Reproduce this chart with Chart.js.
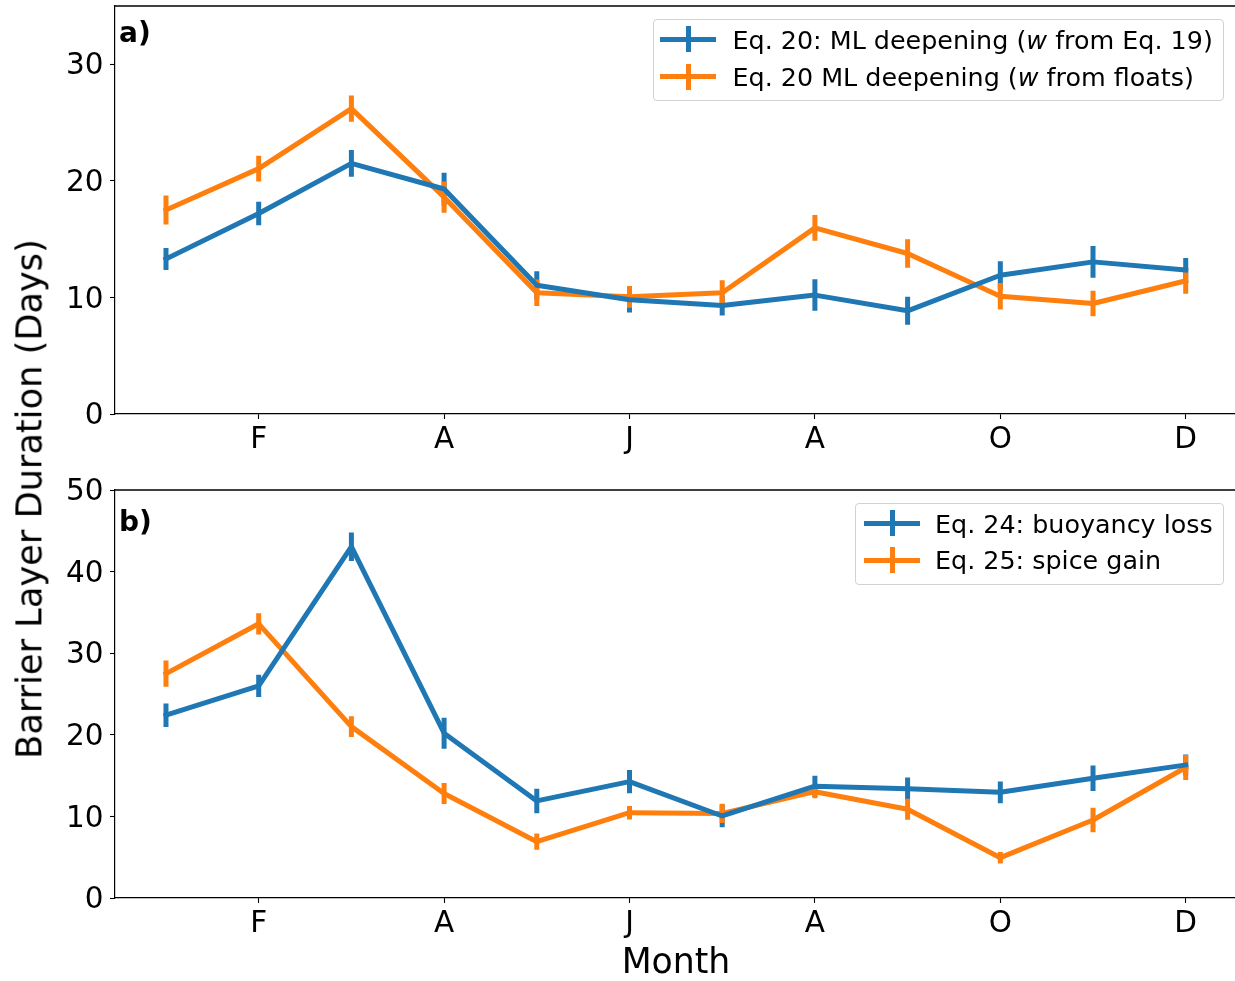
<!DOCTYPE html>
<html><head><meta charset="utf-8">
<script src="https://cdn.jsdelivr.net/npm/chart.js@4.4.1/dist/chart.umd.min.js"></script>
<style>
html,body{margin:0;padding:0;background:#fff;overflow:hidden;width:1235px;height:981px;}
#wrap{position:relative;width:1235px;height:981px;overflow:hidden;font-family:"DejaVu Sans",sans-serif;color:#000;background:#fff;}
canvas{position:absolute;left:0;}
.t{position:absolute;white-space:nowrap;}
.frame{position:absolute;box-sizing:border-box;border:1px solid #d2d2d2;border-radius:4px;background:rgba(255,255,255,0.8);}
.bar{position:absolute;}
</style></head>
<body><div id="wrap">
<canvas id="c1" width="1240" height="470" style="top:0px;width:1240px;height:470px"></canvas>
<canvas id="c2" width="1240" height="511" style="top:470px;width:1240px;height:511px"></canvas>
</div>
<script>
// ---- data ----
const months = [1,2,3,4,5,6,7,8,9,10,11,12];
const monthTickValues = [2,4,6,8,10,12];
const monthTickLabels = ['F','A','J','A','O','D'];
const yTicksA = [0,10,20,30];
const yTicksB = [0,10,20,30,40,50];

// panel a
const aEq19 = [13.3,17.2,21.5,19.3,11.05,9.8,9.3,10.2,8.85,11.9,13.05,12.35];
const aEq19Err = [0.95,1.0,1.15,1.4,1.2,1.1,0.85,1.35,1.2,1.2,1.37,1.03];
const aFloats = [17.5,21.05,26.2,18.6,10.4,10.05,10.4,15.97,13.77,10.1,9.48,11.42];
const aFloatsErr = [1.24,1.1,1.13,1.34,1.14,0.93,1.07,1.1,1.23,1.14,1.1,1.1];
// panel b
const bBuoy = [22.4,26.0,43.05,20.2,11.9,14.26,10.05,13.7,13.4,12.95,14.67,16.3];
const bBuoyErr = [1.43,1.37,1.75,1.9,1.5,1.43,1.37,1.29,1.37,1.33,1.57,1.3];
const bSpice = [27.5,33.6,21.0,12.8,6.9,10.45,10.37,13.03,10.87,4.94,9.56,16.0];
const bSpiceErr = [1.6,1.3,1.27,1.29,1.0,0.82,1.18,0.82,1.29,0.71,1.5,1.53];

const legendA = [['Eq. 20: ML deepening (', 'w', ' from Eq. 19)'], ['Eq. 20 ML deepening (', 'w', ' from floats)']];
const legendB = [['Eq. 24: buoyancy loss'], ['Eq. 25: spice gain']];
const yTitle = 'Barrier Layer Duration (Days)';
const xTitle = 'Month';

const BLUE = '#1f77b4', ORANGE = '#ff7f0e';
const FAMILY = 'DejaVu Sans';
const TICK_SIZE = 29.5;

const errorBarPlugin = {
  id: 'errbars',
  beforeDatasetsDraw(chart) {
    const ctx = chart.ctx, xs = chart.scales.x, ys = chart.scales.y;
    chart.data.datasets.forEach(ds => {
      if (!ds.errors) return;
      ctx.save();
      ctx.strokeStyle = ds.borderColor;
      ctx.lineWidth = ds.borderWidth;
      ctx.lineCap = 'butt';
      ctx.beginPath();
      ds.data.forEach((p, i) => {
        const x = xs.getPixelForValue(p.x);
        ctx.moveTo(x, ys.getPixelForValue(p.y - ds.errors[i]));
        ctx.lineTo(x, ys.getPixelForValue(p.y + ds.errors[i]));
      });
      ctx.stroke();
      ctx.restore();
    });
  }
};
const framePlugin = {
  id: 'frame',
  afterDraw(chart) {
    const a = chart.chartArea, ctx = chart.ctx;
    ctx.save();
    ctx.strokeStyle = '#000'; ctx.lineWidth = 1.3;
    ctx.beginPath();
    ctx.moveTo(a.left, a.top); ctx.lineTo(a.right, a.top); ctx.lineTo(a.right, a.bottom);
    ctx.stroke();
    ctx.restore();
  }
};

function ds(vals, errs, color) {
  return {
    data: months.map((m, i) => ({x: m, y: vals[i]})),
    errors: errs,
    borderColor: color, backgroundColor: color,
    borderWidth: 5, pointRadius: 0, pointHoverRadius: 0,
    tension: 0, fill: false, borderJoinStyle: 'round', borderCapStyle: 'square'
  };
}

function makeChart(id, sets, yTicks, yMax, padTop, xAxisHeight) {
  return new Chart(document.getElementById(id), {
    type: 'line',
    data: {datasets: sets},
    options: {
      responsive: false, animation: false, devicePixelRatio: 1, events: [],
      layout: {padding: {left: 0, top: padTop, right: 3.3, bottom: 0}},
      plugins: {legend: {display: false}, tooltip: {enabled: false}},
      scales: {
        x: {
          type: 'linear', min: 0.45, max: 12.55,
          afterBuildTicks: s => { s.ticks = monthTickValues.map(v => ({value: v})); },
          ticks: {callback: (v, i) => monthTickLabels[i], font: {family: FAMILY, size: TICK_SIZE}, color: '#000', padding: 3.5, maxRotation: 0, autoSkip: false},
          grid: {drawOnChartArea: false, drawTicks: true, tickLength: 5, tickColor: '#000', tickWidth: 1.1},
          border: {display: true, color: '#000', width: 1.2},
          afterFit: s => { s.height = xAxisHeight; s.paddingLeft = 0; s.paddingRight = 0; }
        },
        y: {
          type: 'linear', min: yTicks[0], max: yMax,
          afterBuildTicks: s => { s.ticks = yTicks.map(v => ({value: v})); },
          ticks: {callback: v => String(v), font: {family: FAMILY, size: TICK_SIZE}, color: '#000', padding: 6.5, labelOffset: 2.5},
          grid: {drawOnChartArea: false, drawTicks: true, tickLength: 5, tickColor: '#000', tickWidth: 1.1},
          border: {display: true, color: '#000', width: 1.2},
          afterFit: s => { s.width = 115; s.paddingTop = 0; s.paddingBottom = 0; }
        }
      }
    },
    plugins: [errorBarPlugin, framePlugin]
  });
}

makeChart('c1', [ds(aEq19, aEq19Err, BLUE), ds(aFloats, aFloatsErr, ORANGE)], yTicksA, 35, 6, 56);
makeChart('c2', [ds(bBuoy, bBuoyErr, BLUE), ds(bSpice, bSpiceErr, ORANGE)], yTicksB, 50, 20, 83);

// ---- text & legends ----
const wrap = document.getElementById('wrap');
function addText(html, style) {
  const d = document.createElement('div');
  d.className = 't';
  d.innerHTML = html;
  Object.assign(d.style, style);
  wrap.appendChild(d);
  return d;
}
function addBox(cls, style) {
  const d = document.createElement('div');
  d.className = cls;
  Object.assign(d.style, style);
  wrap.appendChild(d);
}
function labelHtml(parts) {
  return parts.map((p, i) => i === 1 ? '<i>' + p + '</i>' : p).join('');
}
function legend(frame, labels, colors, markerX0, textX, centers) {
  addBox('frame', {left: frame[0] + 'px', top: frame[1] + 'px', width: frame[2] + 'px', height: frame[3] + 'px'});
  labels.forEach((parts, i) => {
    const c = centers[i];
    addBox('bar', {left: markerX0 + 'px', top: (c - 2.5) + 'px', width: '56px', height: '5px', background: colors[i]});
    addBox('bar', {left: (markerX0 + 25.5) + 'px', top: (c - 13) + 'px', width: '5px', height: '26px', background: colors[i]});
    addText(labelHtml(parts), {left: textX + 'px', top: (c + 9.7 - 21.5) + 'px', fontSize: '25.4px', lineHeight: '25.4px'});
  });
}
legend([652.5, 19, 571.5, 82], legendA, [BLUE, ORANGE], 660, 732.5, [39.3, 76.7]);
legend([855, 503, 369, 82], legendB, [BLUE, ORANGE], 864, 935, [523.3, 560]);

addText('a)', {left: '119px', top: (43 - 23.7) + 'px', fontSize: '28px', lineHeight: '28px', fontWeight: 'bold'});
addText('b)', {left: '119px', top: (531.5 - 23.7) + 'px', fontSize: '28px', lineHeight: '28px', fontWeight: 'bold'});
addText(yTitle, {left: '29px', top: '498.5px', fontSize: '35.2px', lineHeight: '35.2px', transform: 'translate(-50%,-50%) rotate(-90deg)'});
addText(xTitle, {left: '676px', top: '944px', fontSize: '34.7px', lineHeight: '34.7px', transform: 'translateX(-50%)'});
</script>
</body></html>
